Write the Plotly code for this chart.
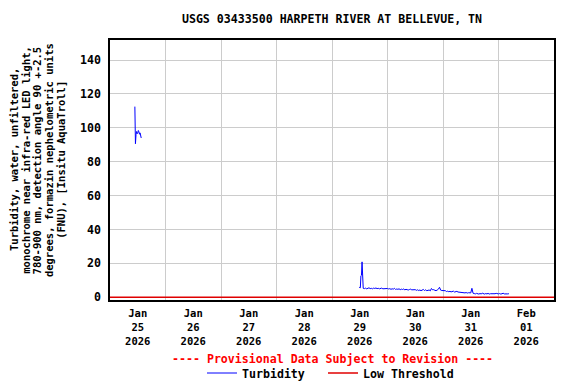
import pandas as pd
import plotly.graph_objects as go

# ---------------- data ----------------
title_text = "USGS 03433500 HARPETH RIVER AT BELLEVUE, TN"
ylabel_lines = [
    "Turbidity, water, unfiltered,",
    "monochrome near infra-red LED light,",
    "780-900 nm, detection angle 90 +-2.5",
    "degrees, formazin nephelometric units",
    "(FNU), [Insitu AquaTroll]",
]
day_labels = ["Jan<br>25<br>2026", "Jan<br>26<br>2026", "Jan<br>27<br>2026", "Jan<br>28<br>2026",
              "Jan<br>29<br>2026", "Jan<br>30<br>2026", "Jan<br>31<br>2026", "Feb<br>01<br>2026"]
day_label_times = ["2026-01-25 12:00", "2026-01-26 12:00", "2026-01-27 12:00", "2026-01-28 12:00",
                   "2026-01-29 12:00", "2026-01-30 12:00", "2026-01-31 12:00", "2026-02-01 12:00"]

# first burst of readings (15-minute)
seg1_start = "2026-01-25 10:45"
seg1_values = [112.5, 90.6, 96.0, 97.8, 96.5, 97.0, 98.4, 97.6, 96.2, 97.0, 95.5, 94.0]

# second record, spike part (15-minute)
seg2a_start = "2026-01-29 11:45"
seg2a_values = [5.9, 5.5, 5.6, 12.7, 13.0, 20.9, 5.4]

# second record, remainder (30-minute)
seg2b_start = "2026-01-29 13:30"
seg2b_values = [
    5.3, 5.1, 5.4, 5.0, 5.2, 5.6, 5.1, 5.3, 5.0, 5.4, 5.2, 5.5, 5.1, 5.3, 5.0, 5.2, 5.4, 5.0, 5.1, 5.3, 5.0,
    5.2, 4.9, 5.1, 4.7, 5.0, 4.8, 5.3, 4.6, 4.9, 4.7, 5.0, 4.5, 4.8, 4.6, 4.9, 4.4, 4.7, 4.5, 4.3, 4.6, 4.8, 4.4, 4.5, 4.2,
    4.5, 4.1, 4.4, 4.0, 4.3, 3.9, 4.2, 4.6, 4.0, 4.4, 3.9, 4.1, 4.3, 3.8, 5.2, 4.4, 4.5, 4.1, 3.9, 4.3, 4.8, 5.9, 4.2, 4.0,
    4.0, 3.7, 3.9, 3.4, 3.6, 3.3, 3.5, 3.2, 3.4, 3.6, 3.1, 3.3, 3.5, 3.1, 3.0, 2.8, 3.0, 2.7, 2.9, 2.6, 2.8, 2.5, 2.7, 2.6,
    2.6, 5.3,
    2.4, 2.2, 2.0, 2.3, 2.1, 1.9, 2.2, 2.0, 2.4, 2.1, 1.9, 2.2, 2.0, 2.3, 1.9, 2.1, 2.0, 2.2, 1.8, 2.1, 2.3, 1.9,
    2.0, 2.2, 1.9, 2.1, 2.4, 2.0, 1.9, 2.2, 2.0, 2.1,
]

threshold_times = ["2026-01-25 00:00", "2026-02-02 00:00"]
threshold_values = [0.0, 0.0]

x_range = ["2026-01-25 00:00", "2026-02-02 00:00"]
y_range = [-1.6, 151.8]

# ---------------- build ----------------
t1 = list(pd.date_range(seg1_start, periods=len(seg1_values), freq="15min"))
t2a = list(pd.date_range(seg2a_start, periods=len(seg2a_values), freq="15min"))
t2b = list(pd.date_range(seg2b_start, periods=len(seg2b_values), freq="30min"))

turb_x = t1 + [None] + t2a + t2b
turb_y = seg1_values + [None] + seg2a_values + seg2b_values

FONT = "DejaVu Sans Mono"
LEGEND_FONT = dict(family=FONT, size=11.6, color="black", weight="bold")

fig = go.Figure()
fig.add_trace(go.Scatter(x=turb_x, y=turb_y, mode="lines", name="Turbidity",
                         line=dict(color="#0000ff", width=1), connectgaps=False, legend="legend"))
fig.add_trace(go.Scatter(x=threshold_times, y=threshold_values, mode="lines", name="Low Threshold",
                         line=dict(color="#e00000", width=1.5), legend="legend2"))

fig.update_layout(
    width=576, height=384,
    margin=dict(l=110, r=22, t=40, b=84, autoexpand=False),
    paper_bgcolor="white", plot_bgcolor="white",
    font=dict(family=FONT, size=11, color="black", weight="bold"),
    title=dict(text=title_text, x=0.5, xref="paper", y=1 - 19 / 384, yref="container",
               yanchor="middle", xanchor="center",
               font=dict(family=FONT, size=11.6, color="black", weight="bold")),
    showlegend=True,
    legend=dict(orientation="h", x=(202 - 110) / 444, xanchor="left", xref="paper",
                y=1 - 373 / 384, yanchor="middle", yref="container",
                font=LEGEND_FONT, itemwidth=30, bgcolor="rgba(0,0,0,0)"),
    legend2=dict(orientation="h", x=(323 - 110) / 444, xanchor="left", xref="paper",
                 y=1 - 373 / 384, yanchor="middle", yref="container",
                 font=LEGEND_FONT, itemwidth=30, bgcolor="rgba(0,0,0,0)"),
)

fig.update_xaxes(
    range=x_range, type="date",
    tickmode="array", tickvals=day_label_times, ticktext=day_labels,
    ticks="", showgrid=False, ticklabelstandoff=3,
    minor=dict(tickmode="linear", tick0="2026-01-25", dtick=86400000, showgrid=True,
               gridcolor="#cccccc", gridwidth=1, ticks=""),
    showline=True, linecolor="black", linewidth=1.5, mirror=True,
    tickfont=dict(family=FONT, size=10.5, color="black", weight="bold"),
    zeroline=False,
)
fig.update_yaxes(
    range=y_range, tickmode="linear", tick0=0, dtick=20,
    showgrid=True, gridcolor="#cccccc", gridwidth=1, ticks="", ticklabelstandoff=5,
    showline=True, linecolor="black", linewidth=1.5, mirror=True,
    tickfont=dict(family=FONT, size=11.6, color="black", weight="bold"),
    zeroline=False,
)

# y-axis title, one annotation per line
line_x = [14, 25.7, 37.4, 49.1, 60.8]
for txt, px in zip(ylabel_lines, line_x):
    fig.add_annotation(text=txt, xref="paper", yref="paper",
                       x=(px - 110) / 444, y=(300 - 160) / 260,
                       xanchor="center", yanchor="middle", textangle=-90, showarrow=False,
                       font=dict(family=FONT, size=10.5, color="black", weight="bold"))

fig.add_annotation(text="---- Provisional Data Subject to Revision ----",
                   xref="paper", yref="paper", x=0.5, y=(300 - 359) / 260,
                   xanchor="center", yanchor="middle", showarrow=False,
                   font=dict(family=FONT, size=11.6, color="#ff0000", weight="bold"))

fig.write_html("out.html", config={"displayModeBar": False},
               post_script="document.body.style.margin='0';document.body.style.padding='0';")
